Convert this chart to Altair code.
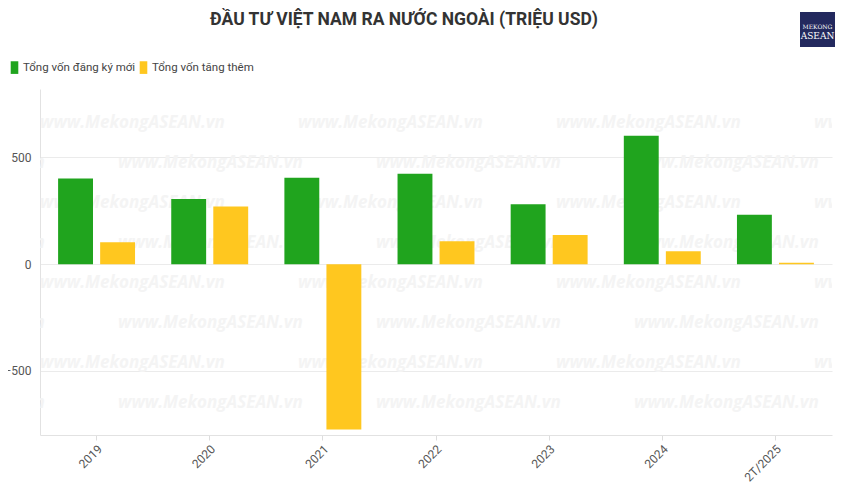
import altair as alt
import pandas as pd

title_text = "ĐẦU TƯ VIỆT NAM RA NƯỚC NGOÀI (TRIỆU USD)"
years = ["2019", "2020", "2021", "2022", "2023", "2024", "2T/2025"]
series = ["Tổng vốn đăng ký mới", "Tổng vốn tăng thêm"]
new_capital = [401, 305, 405, 423, 280, 601, 231]
added_capital = [103, 270, -774, 107, 137, 60, 6]
colors = ["#20a41e", "#ffc71f"]
y_ticks = [-500, 0, 500]

rows = []
for i, y in enumerate(years):
    rows.append({"year": y, "series": series[0], "value": new_capital[i]})
    rows.append({"year": y, "series": series[1], "value": added_capital[i]})
df = pd.DataFrame(rows)

W, H = 792, 346

# faint repeated watermark inside the plot area
wm = []
for r in range(8):
    start = 0 if r % 2 == 0 else -180
    for k in range(5):
        wm.append({"px": start + 258 * k, "py": 34 + 40 * r})
wm_df = pd.DataFrame(wm)

watermark = alt.Chart(wm_df).mark_text(
    text="www.MekongASEAN.vn", align="left", baseline="middle",
    font="Open Sans", fontSize=17, fontWeight="bold", fontStyle="italic",
    color="#f4f4f4", clip=True
).encode(
    x=alt.X("px:Q", scale=None, axis=None),
    y=alt.Y("py:Q", scale=None, axis=None),
)

bars = alt.Chart(df).mark_bar().encode(
    x=alt.X("year:N", sort=years, title=None,
            scale=alt.Scale(paddingInner=0.32, paddingOuter=0.16),
            axis=alt.Axis(labelAngle=-45, labelFontSize=12, labelColor="#555",
                          labelFont="Roboto", domainColor="#e2e2e2", tickColor="#dddddd",
                          tickSize=5, labelPadding=3, grid=False)),
    xOffset=alt.XOffset("series:N", sort=series, scale=alt.Scale(paddingInner=0.17)),
    y=alt.Y("value:Q", title=None,
            scale=alt.Scale(domain=[-800, 820], nice=False, zero=False),
            axis=alt.Axis(values=y_ticks, labelFontSize=12, labelColor="#555",
                          labelFont="Roboto", domainColor="#e2e2e2", ticks=False,
                          labelPadding=9, gridColor="#ebebeb")),
    color=alt.Color("series:N", sort=series,
                    scale=alt.Scale(domain=series, range=colors),
                    legend=alt.Legend(title=None, orient="none", legendX=-32, legendY=-28,
                                      direction="horizontal",
                                      symbolType="M -0.6 -1 L 0.6 -1 L 0.6 1 L -0.6 1 Z",
                                      symbolSize=160, symbolStrokeWidth=0,
                                      labelFont="Roboto", labelFontSize=11.5,
                                      labelColor="#444", columnPadding=1,
                                      labelOffset=2)),
)

one = pd.DataFrame({"d": [0]})
title = alt.Chart(one).mark_text(
    text=title_text, font="Roboto", fontSize=17.5, fontWeight="bold",
    color="#333", align="center", baseline="middle"
).encode(x=alt.value(364), y=alt.value(-69))
logo_box = alt.Chart(one).mark_rect(color="#23295e").encode(
    x=alt.value(760), x2=alt.value(795), y=alt.value(-77), y2=alt.value(-42)
)
logo_t1 = alt.Chart(one).mark_text(
    text="MEKONG", font="DejaVu Serif", fontSize=6, color="white", align="center"
).encode(x=alt.value(777.5), y=alt.value(-62))
logo_t2 = alt.Chart(one).mark_text(
    text="ASEAN", font="DejaVu Serif", fontSize=9, color="white", align="center"
).encode(x=alt.value(777.5), y=alt.value(-53))

chart = alt.layer(watermark, bars, title, logo_box, logo_t1, logo_t2).resolve_scale(
    x="independent", y="independent"
).properties(
    width=W, height=H,
    background="white",
    autosize=alt.AutoSizeParams(type="none"),
    padding={"left": 32, "top": 81, "right": 10, "bottom": 50},
).configure_view(strokeWidth=0, stroke="transparent")

chart.save("out.html", embed_options={"renderer": "svg", "actions": False})
